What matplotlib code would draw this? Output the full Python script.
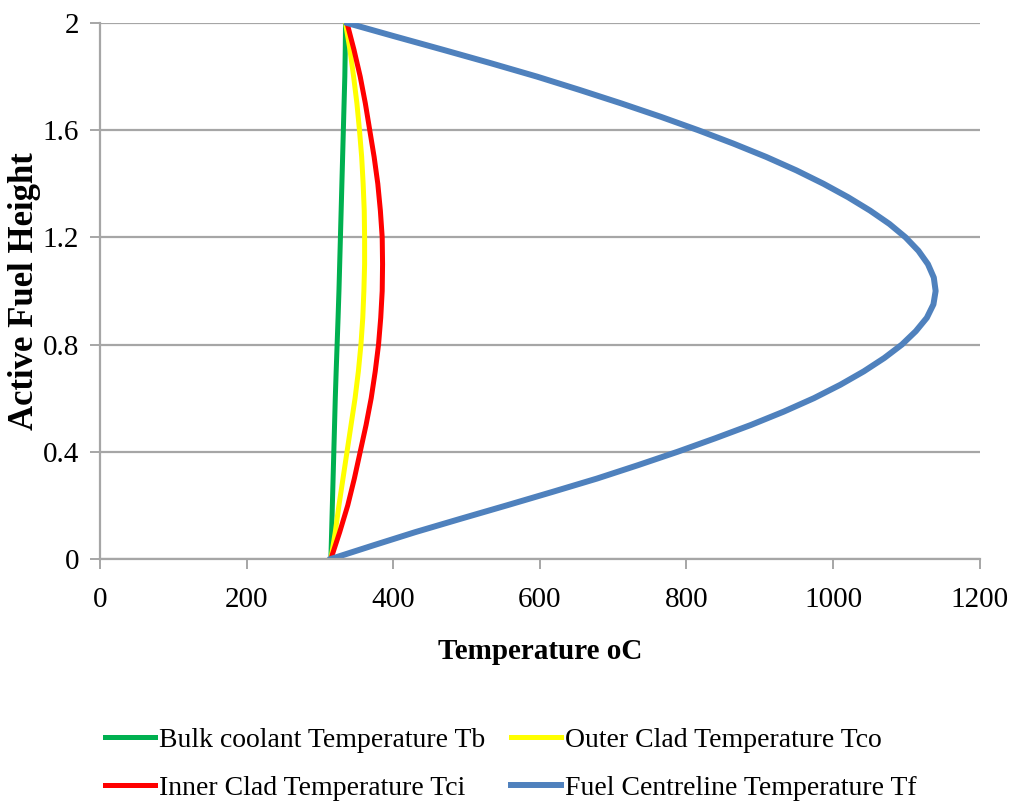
import matplotlib
matplotlib.use("Agg")
import matplotlib.pyplot as plt
import numpy as np

plt.rcParams['font.family'] = ['Liberation Serif', 'DejaVu Serif']

# heights along the active fuel length (clad / coolant curves)
h_clad = [0, 0.1, 0.2, 0.3, 0.4, 0.5, 0.6, 0.7, 0.8, 0.9, 1.0,
          1.1, 1.2, 1.3, 1.4, 1.5, 1.6, 1.7, 1.8, 1.9, 2.0]
t_bulk = [315, 316, 317, 318, 319, 320, 321, 322.2, 323.5, 324.8, 326,
          327, 328, 329, 330, 331, 332, 333, 334, 334.6, 335]
t_outer = [315, 321, 326, 331.5, 337, 342.5, 348, 352.5, 356, 358.5, 360,
           361, 361, 360.5, 359, 357, 354, 350.5, 346, 341, 335]
t_inner = [315, 327, 338, 347, 355, 363, 370, 375.5, 380, 383, 385,
           385.5, 385, 382.5, 379, 374, 368, 362, 355, 346.5, 337]

# fuel centreline curve
h_fuel = [0, 0.05, 0.1, 0.15, 0.2, 0.25, 0.3, 0.35, 0.4, 0.45, 0.5,
          0.55, 0.6, 0.65, 0.7, 0.75, 0.8, 0.85, 0.9, 0.95, 1.0,
          1.05, 1.1, 1.15, 1.2, 1.25, 1.3, 1.35, 1.4, 1.45, 1.5,
          1.55, 1.6, 1.65, 1.7, 1.75, 1.8, 1.85, 1.9, 1.95, 2.0]
t_fuel = [315, 372, 430, 492, 555, 617, 678, 734, 788, 839, 888,
          933, 974, 1010, 1042, 1070, 1094, 1113, 1128, 1137, 1140,
          1137.5, 1129.5, 1116.5, 1099, 1077, 1050.5, 1020.5, 987, 950, 909,
          864, 816, 765, 711, 654.5, 596, 533, 468, 402, 337]

fig = plt.figure(figsize=(10.12, 8.06), dpi=100)
ax = fig.add_axes([0.0988, 0.3065, 0.8692, 0.665])

l1, = ax.plot(t_bulk, h_clad, color='#00B050', lw=3.6, label='Bulk coolant Temperature Tb')
l2, = ax.plot(t_outer, h_clad, color='#FFFF00', lw=3.6, label='Outer Clad Temperature Tco')
l3, = ax.plot(t_inner, h_clad, color='#FF0000', lw=3.6, label='Inner Clad Temperature Tci')
l4, = ax.plot(t_fuel, h_fuel, color='#4F81BD', lw=4.3, label='Fuel Centreline Temperature Tf')

ax.set_xlim(0, 1200)
ax.set_ylim(0, 2)
ax.set_xticks(np.arange(0, 1201, 200))
ax.set_yticks([0, 0.4, 0.8, 1.2, 1.6, 2])
ax.set_yticklabels(['0', '0.4', '0.8', '1.2', '1.6', '2'])
ax.yaxis.grid(True, color='#a6a6a6', lw=1.6)
ax.set_axisbelow(True)

for s in ['top', 'right']:
    ax.spines[s].set_visible(False)
for s in ['left', 'bottom']:
    ax.spines[s].set_color('#a6a6a6')
    ax.spines[s].set_linewidth(1.6)
ax.tick_params(axis='both', colors='#a6a6a6', labelcolor='black', labelsize=21,
               length=7, width=1.4, direction='out')
ax.tick_params(axis='x', pad=13)
ax.tick_params(axis='y', pad=8)

ax.set_xlabel('Temperature oC', fontsize=21, fontweight='bold', labelpad=18)
ax.set_ylabel('Active Fuel Height', fontsize=25, fontweight='bold', labelpad=1)

# row-wise legend order: Tb, Tco / Tci, Tf
handles = [l1, l3, l2, l4]
fig.legend(handles=handles, labels=[h.get_label() for h in handles],
           loc='center left', bbox_to_anchor=(0.104, 0.052), ncol=2, frameon=False,
           fontsize=20, handlelength=1.8, handletextpad=0.15, columnspacing=0.9,
           labelspacing=0.8, borderpad=0, borderaxespad=0)

fig.savefig('out.png', dpi=100)
